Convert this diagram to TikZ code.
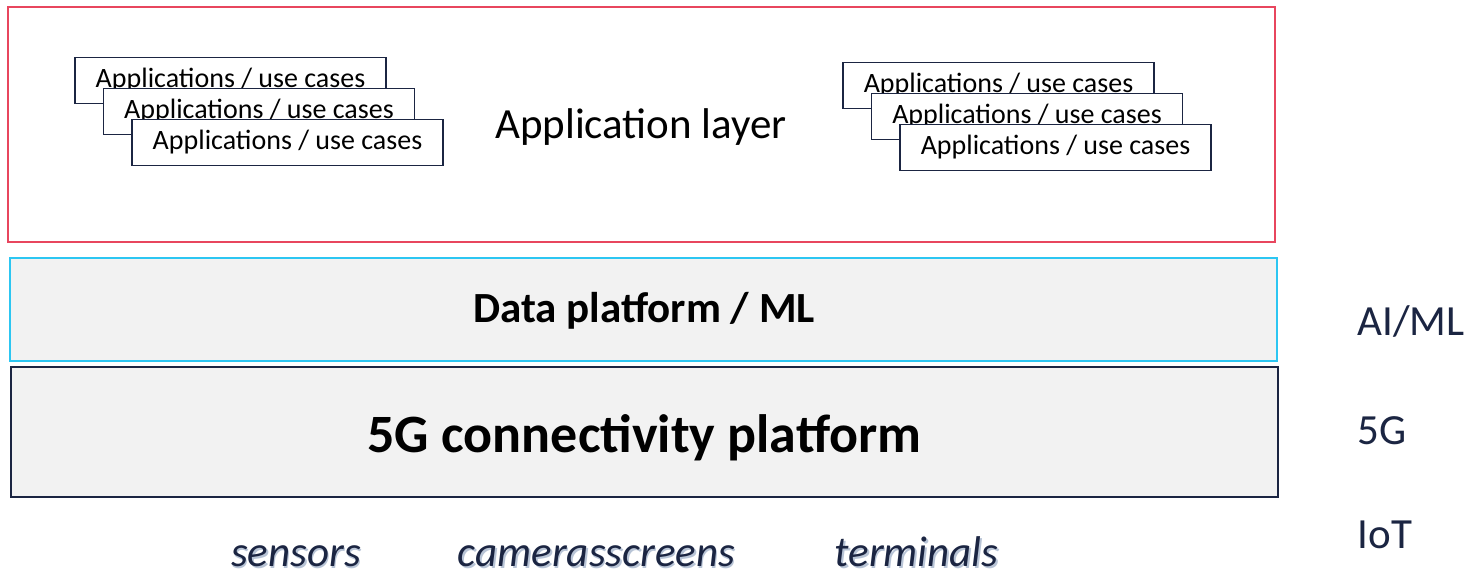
\documentclass[tikz,border=0pt]{standalone}
\usepackage{xcolor}
\usepackage{fontspec}
\setmainfont{Carlito}
\usepackage{tikz}
\usetikzlibrary{math}

\definecolor{navy}{HTML}{1B2542}
\definecolor{applred}{HTML}{E8465E}
\definecolor{datacyan}{HTML}{2CC6F2}
\definecolor{layergrey}{HTML}{F2F2F2}
\definecolor{shadowgrey}{HTML}{B8C4D6}

\begin{document}
\begin{tikzpicture}[x=1pt,y=-1pt,
	layer/.style={draw,line width=1.6pt,minimum width=1267pt,inner sep=0pt},
	usecase/.style={draw=navy,line width=1.8pt,fill=white,minimum width=311pt,minimum height=46pt,inner sep=0pt,font=\fontsize{28}{28}\selectfont},
	side/.style={text=navy,anchor=base west,font=\fontsize{43}{43}\selectfont},
	device/.style={text=navy,anchor=base,inner sep=0pt,font=\fontsize{43}{43}\selectfont\itshape}]
\useasboundingbox (0,0) rectangle (1476,576);
\tikzmath{
	\lx = 230.5;\ly = 80.5;
	\rx = 998.5;\ry = 85.5;
	\dx = 28.5;\dy = 31;
	{\node[layer,draw=applred,minimum height=235pt] (app) at (641.5,124.5) {};};
	{\node[layer,draw=datacyan,fill=layergrey,minimum height=103pt] (data) at (643.5,309.5) {};};
	{\node[layer,draw=navy,fill=layergrey,minimum height=130pt] (conn) at (644.5,432) {};};
	%
	{\node[anchor=base,font=\fontsize{43}{43}\selectfont] (applabel) at (641,138) {Application layer};};
	{\node[anchor=base,font=\fontsize{43}{43}\selectfont\bfseries] (datalabel) at (644,322) {Data platform / ML};};
	{\node[anchor=base,font=\fontsize{54}{54}\selectfont\bfseries] (connlabel) at (644.5,452) {5G connectivity platform};};
	%
	{\node[usecase] (l1) at (\lx,\ly) {Applications / use cases};};
	{\node[usecase] (l2) at (\lx+\dx,\ly+\dy) {Applications / use cases};};
	{\node[usecase] (l3) at (\lx+2*\dx,\ly+2*\dy) {Applications / use cases};};
	{\node[usecase] (r1) at (\rx,\ry) {Applications / use cases};};
	{\node[usecase] (r2) at (\rx+\dx,\ry+\dy) {Applications / use cases};};
	{\node[usecase] (r3) at (\rx+2*\dx,\ry+2*\dy) {Applications / use cases};};
	%
	{\node[side] (aiml) at (1354,335) {AI/ML};};
	{\node[side] (fiveg) at (1354,444) {5G};};
	{\node[side] (iot) at (1354,548) {IoT};};
	%
	{\node[device,text=shadowgrey] at (297.5,568) {sensors};};
	{\node[device] (sensors) at (296,566.5) {sensors};};
	{\node[device,text=shadowgrey] at (598,568) {camerasscreens};};
	{\node[device] (cameras) at (596.5,566.5) {camerasscreens};};
	{\node[device,text=shadowgrey] at (918,568) {terminals};};
	{\node[device] (terminals) at (916.5,566.5) {terminals};};
};
\end{tikzpicture}
\end{document}
